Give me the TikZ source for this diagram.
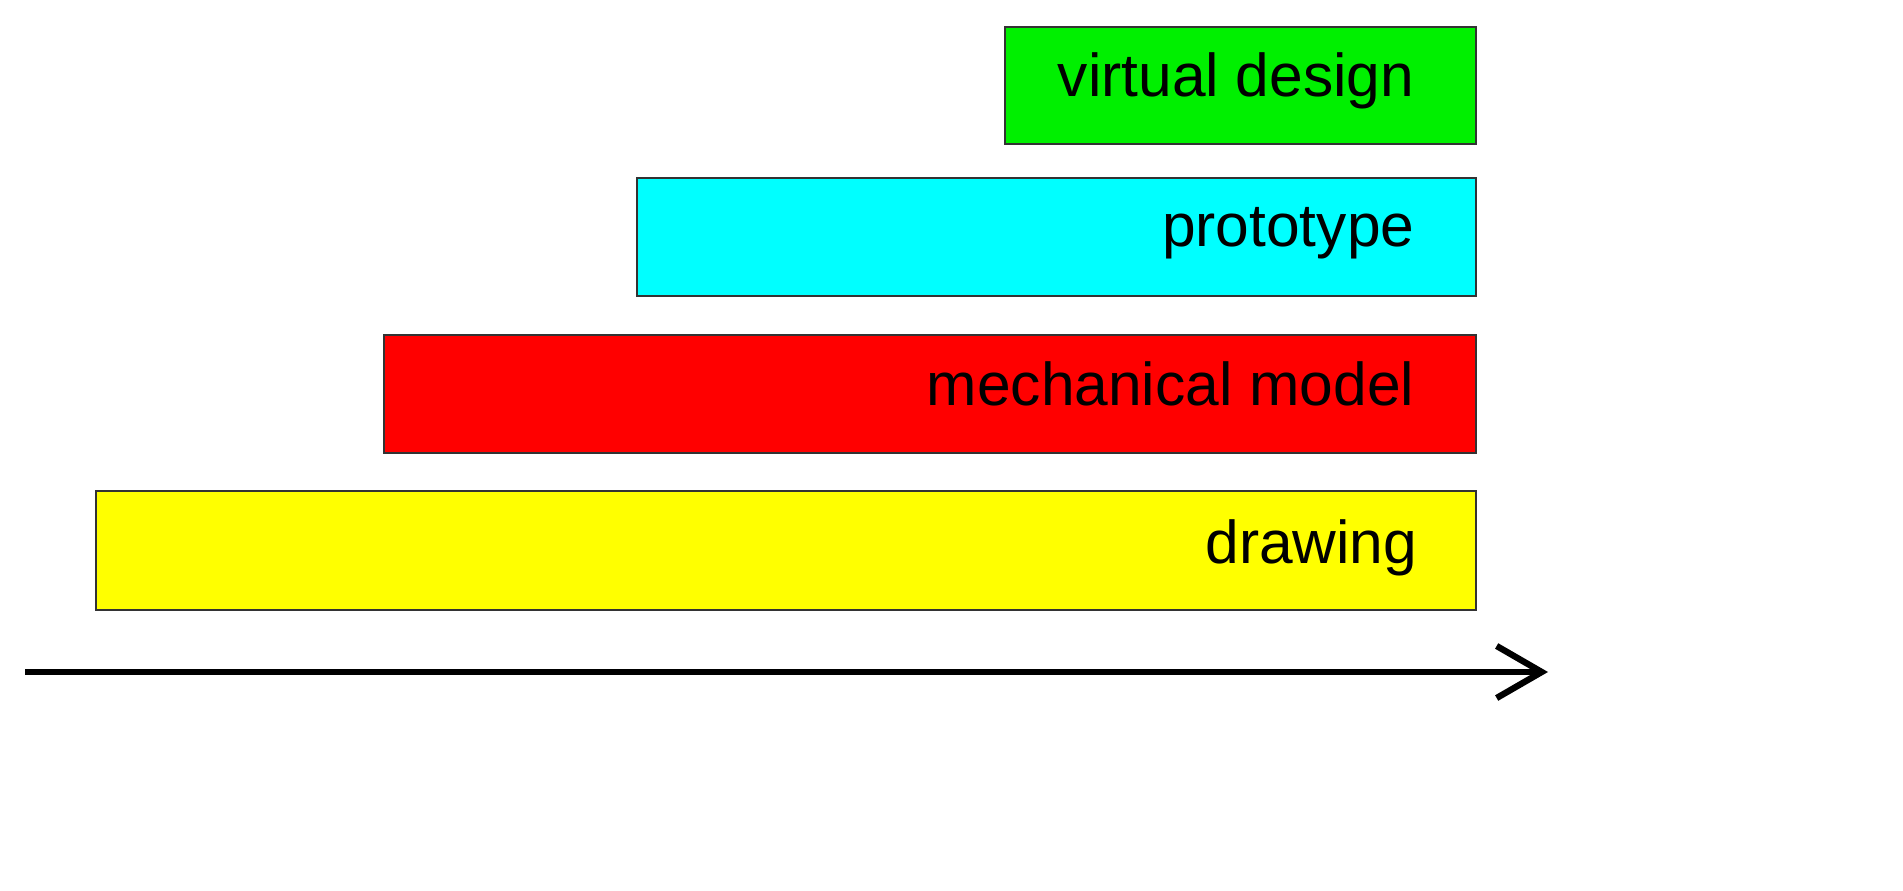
\documentclass[tikz,border=0pt]{standalone}
\usepackage{fontspec}
\setmainfont{Liberation Sans}
\usetikzlibrary{arrows.meta}
\definecolor{cgreen}{RGB}{0,240,0}
\definecolor{ccyan}{RGB}{0,255,255}
\definecolor{cred}{RGB}{255,0,0}
\definecolor{cyellow}{RGB}{255,255,0}
\begin{document}
\begin{tikzpicture}[x=0.01cm,y=-0.01cm,
  bar/.style={draw=black!80,line width=0.8pt},
  lbl/.style={anchor=base east,font=\fontsize{17.2}{20}\selectfont,inner sep=0pt}]
\useasboundingbox (0,0) rectangle (1903,891);
\fill[bar,fill=cgreen] (1005,27) rectangle (1476,144);
\fill[bar,fill=ccyan] (637,178) rectangle (1476,296);
\fill[bar,fill=cred] (384,335) rectangle (1476,453);
\fill[bar,fill=cyellow] (96,491) rectangle (1476,610);
\node[lbl] (v) at (1415,97) {virtual design};
\node[lbl] (p) at (1415,246) {prototype};
\node[lbl] (m) at (1415,405) {mechanical model};
\node[lbl] (d) at (1418,563) {drawing};
\coordinate (a0) at (25,672);
\coordinate (a1) at (1548,672);
\draw[line width=1.8pt,-{Straight Barb[length=0.45cm,width=0.52cm,line width=1.8pt]}] (a0) -- (a1);
\end{tikzpicture}
\end{document}
